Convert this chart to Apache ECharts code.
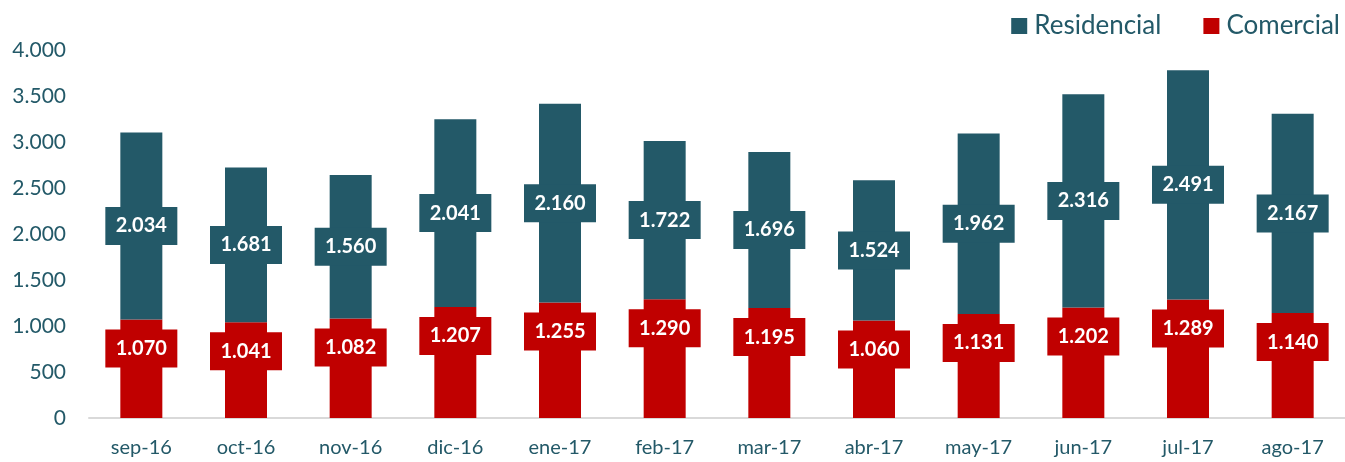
<!DOCTYPE html>
<html>
<head>
<meta charset="utf-8">
<script src="https://cdn.jsdelivr.net/npm/echarts@6/dist/echarts.min.js"></script>
<style>html,body{margin:0;padding:0;background:#fff}#c{width:1345px;height:462px}</style>
</head>
<body>
<div id="c"></div>
<script>
const categories = ['sep-16','oct-16','nov-16','dic-16','ene-17','feb-17','mar-17','abr-17','may-17','jun-17','jul-17','ago-17'];
const comercial = [1070,1041,1082,1207,1255,1290,1195,1060,1131,1202,1289,1140];
const residencial = [2034,1681,1560,2041,2160,1722,1696,1524,1962,2316,2491,2167];
const yTicks = [0,500,1000,1500,2000,2500,3000,3500,4000];

const TEAL = '#235968';
const RED = '#C00000';
const FONT = 'Lato, "Open Sans", sans-serif';
function fmt(v){ return String(Math.round(v)).replace(/\B(?=(\d{3})+(?!\d))/g,'.'); }

const chart = echarts.init(document.getElementById('c'));
const boxLabel = (color, pos, dist, off) => ({
  show: true, position: pos, distance: dist, offset: off,
  formatter: p => fmt(p.value),
  color: '#fff', fontFamily: FONT, fontWeight: 'bold', fontSize: 20,
  backgroundColor: color, width: 72, height: 38, lineHeight: 38, align: 'center', verticalAlign: 'middle', padding: 0
});
chart.setOption({
  animation: false,
  legend: {
    data: ['Residencial','Comercial'], right: 0, top: 8, icon: 'rect',
    itemWidth: 16, itemHeight: 16, itemGap: 42,
    textStyle: { fontSize: 26, color: TEAL, fontFamily: FONT, padding: [0, 0, 0, 2] }
  },
  grid: { left: 89, right: -14, top: 50, bottom: 44, containLabel: false },
  xAxis: {
    type: 'category', data: categories,
    axisLine: { lineStyle: { color: '#d9d9d9', width: 2 } },
    axisTick: { show: false },
    axisLabel: { color: TEAL, fontSize: 20, fontFamily: FONT, margin: 20 }
  },
  yAxis: {
    type: 'value', min: yTicks[0], max: yTicks[yTicks.length-1], interval: 500,
    splitLine: { show: false }, axisLine: { show: false }, axisTick: { show: false },
    axisLabel: { color: TEAL, fontSize: 21, fontFamily: FONT, margin: 23, formatter: v => fmt(v) }
  },
  series: [
    { name: 'Comercial', type: 'bar', stack: 't', data: comercial, barWidth: 42,
      itemStyle: { color: RED }, label: boxLabel(RED, 'insideTop', 8, [0, 21]) },
    { name: 'Residencial', type: 'bar', stack: 't', data: residencial, barWidth: 42,
      itemStyle: { color: TEAL }, label: boxLabel(TEAL, 'inside', 0, [0, 0]) }
  ]
});
</script>
</body>
</html>
